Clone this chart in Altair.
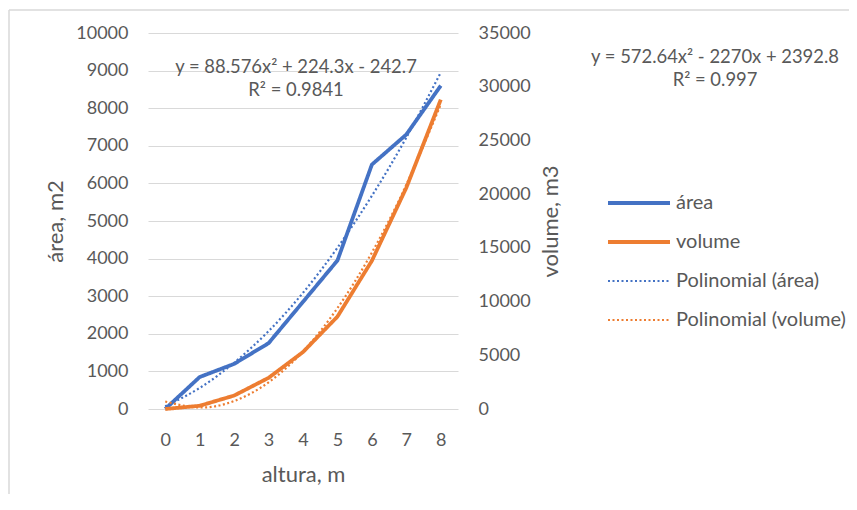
import altair as alt
import pandas as pd

# ---- data ----
altura = [0, 1, 2, 3, 4, 5, 6, 7, 8]
area = [0, 850, 1200, 1750, 2850, 3950, 6500, 7300, 8600]
volume = [0, 300, 1250, 2900, 5300, 8600, 13800, 20600, 28800]
area_trend = [70, 560, 1230, 2070, 3090, 4290, 5670, 7220, 8950]
volume_trend = [700, 140, 740, 2480, 5360, 9390, 14560, 20880, 28350]

series_names = ["área", "volume", "Polinomial (área)", "Polinomial (volume)"]
series_colors = ["#4472C4", "#ED7D31", "#4472C4", "#ED7D31"]
series_dash = [[1, 0], [1, 0], [2, 2.5], [2, 2.5]]

eq_area = "y = 88.576x² + 224.3x - 242.7\nR² = 0.9841"
eq_volume = "y = 572.64x² - 2270x + 2392.8\nR² = 0.997"

area_ticks = list(range(0, 10001, 1000))
volume_ticks = list(range(0, 35001, 5000))

GRAY = "#595959"
GRID = "#d9d9d9"
FONT = "Lato, sans-serif"

df_area = pd.DataFrame({"altura": altura, "valor": area, "serie": series_names[0]})
df_vol = pd.DataFrame({"altura": altura, "valor": volume, "serie": series_names[1]})
df_area_t = pd.DataFrame({"altura": altura, "valor": area_trend, "serie": series_names[2]})
df_vol_t = pd.DataFrame({"altura": altura, "valor": volume_trend, "serie": series_names[3]})

legend = alt.Legend(
    title=None, orient="none", legendX=481, legendY=160,
    symbolType="stroke", symbolSize=3844, labelFont=FONT, labelFontSize=20,
    labelColor=GRAY, labelOffset=27, rowPadding=19, labelLimit=400,
    symbolStrokeWidth=alt.ExprRef(
        "indexof(['área', 'volume'], datum.value) >= 0 ? 4 : 2.2"),
)

x_enc = alt.X(
    "altura:O",
    scale=alt.Scale(type="point", padding=0.5),
    axis=alt.Axis(
        title="altura, m", labelAngle=0, ticks=False, domain=False, grid=False,
        labelPadding=22, labelFont=FONT, labelFontSize=18, labelColor=GRAY,
        titleFont=FONT, titleFontSize=22, titleColor=GRAY, titleFontWeight="normal",
        titleX=155, titleY=65, titleBaseline="middle",
    ),
)
color_enc = alt.Color("serie:N", scale=alt.Scale(domain=series_names, range=series_colors), legend=legend)
dash_enc = alt.StrokeDash("serie:N", scale=alt.Scale(domain=series_names, range=series_dash), legend=legend)


def y_left():
    return alt.Y(
        "valor:Q",
        scale=alt.Scale(domain=[0, 10000], nice=False),
        axis=alt.Axis(
            orient="left", values=area_ticks, format="d", title="área, m2", ticks=False, domain=False,
            grid=True, gridColor=GRID, gridWidth=1.2, labelPadding=20,
            labelFont=FONT, labelFontSize=18, labelColor=GRAY,
            titleFont=FONT, titleFontSize=22, titleColor=GRAY,
            titleFontWeight="normal", titleAngle=270, titleX=-93, titleY=188,
            titleBaseline="middle", titleAlign="center",
        ),
    )


def y_right():
    return alt.Y(
        "valor:Q",
        scale=alt.Scale(domain=[0, 35000], nice=False),
        axis=alt.Axis(
            orient="right", values=volume_ticks, format="d", title="volume, m3", ticks=False, domain=False,
            grid=False, labelPadding=20,
            labelFont=FONT, labelFontSize=18, labelColor=GRAY,
            titleFont=FONT, titleFontSize=22, titleColor=GRAY,
            titleFontWeight="normal", titleAngle=270, titleX=92, titleY=188,
            titleBaseline="middle", titleAlign="center",
        ),
    )


area_line = alt.Chart(df_area).mark_line(strokeWidth=3.8).encode(
    x=x_enc, y=y_left(), color=color_enc, strokeDash=dash_enc)
area_tr = alt.Chart(df_area_t).mark_line(strokeWidth=2.2, interpolate="natural").encode(
    x=x_enc, y=y_left(), color=color_enc, strokeDash=dash_enc)
vol_line = alt.Chart(df_vol).mark_line(strokeWidth=3.8).encode(
    x=x_enc, y=y_right(), color=color_enc, strokeDash=dash_enc)
vol_tr = alt.Chart(df_vol_t).mark_line(strokeWidth=2.2, interpolate="natural").encode(
    x=x_enc, y=y_right(), color=color_enc, strokeDash=dash_enc)

left = alt.layer(area_line, area_tr)
right = alt.layer(vol_line, vol_tr)

eq1 = alt.Chart(pd.DataFrame({"eq": [eq_area]})).mark_text(
    font=FONT, fontSize=18.4, color=GRAY, align="center", baseline="middle",
    lineBreak="\n", lineHeight=23,
).encode(text="eq:N", x=alt.value(148), y=alt.value(34))
eq2 = alt.Chart(pd.DataFrame({"eq": [eq_volume]})).mark_text(
    font=FONT, fontSize=18.4, color=GRAY, align="center", baseline="middle",
    lineBreak="\n", lineHeight=23,
).encode(text="eq:N", x=alt.value(567), y=alt.value(24))

frame_df = pd.DataFrame({"a": [0]})
frame_left = alt.Chart(frame_df).mark_rule(color=GRID, strokeWidth=1.5).encode(
    x=alt.value(-139), y=alt.value(-23), y2=alt.value(480))
frame_top = alt.Chart(frame_df).mark_rule(color=GRID, strokeWidth=1.5).encode(
    x=alt.value(-139), x2=alt.value(720), y=alt.value(-23))

chart = (
    alt.layer(left, right, eq1, eq2, frame_left, frame_top)
    .resolve_scale(y="independent")
    .properties(
        width=310, height=376, autosize="none",
        padding={"left": 140, "top": 25, "right": 391, "bottom": 85},
        background="white",
    )
    .configure_view(stroke=None)
)

chart.save("out.html", embed_options={"renderer": "svg", "actions": False})
